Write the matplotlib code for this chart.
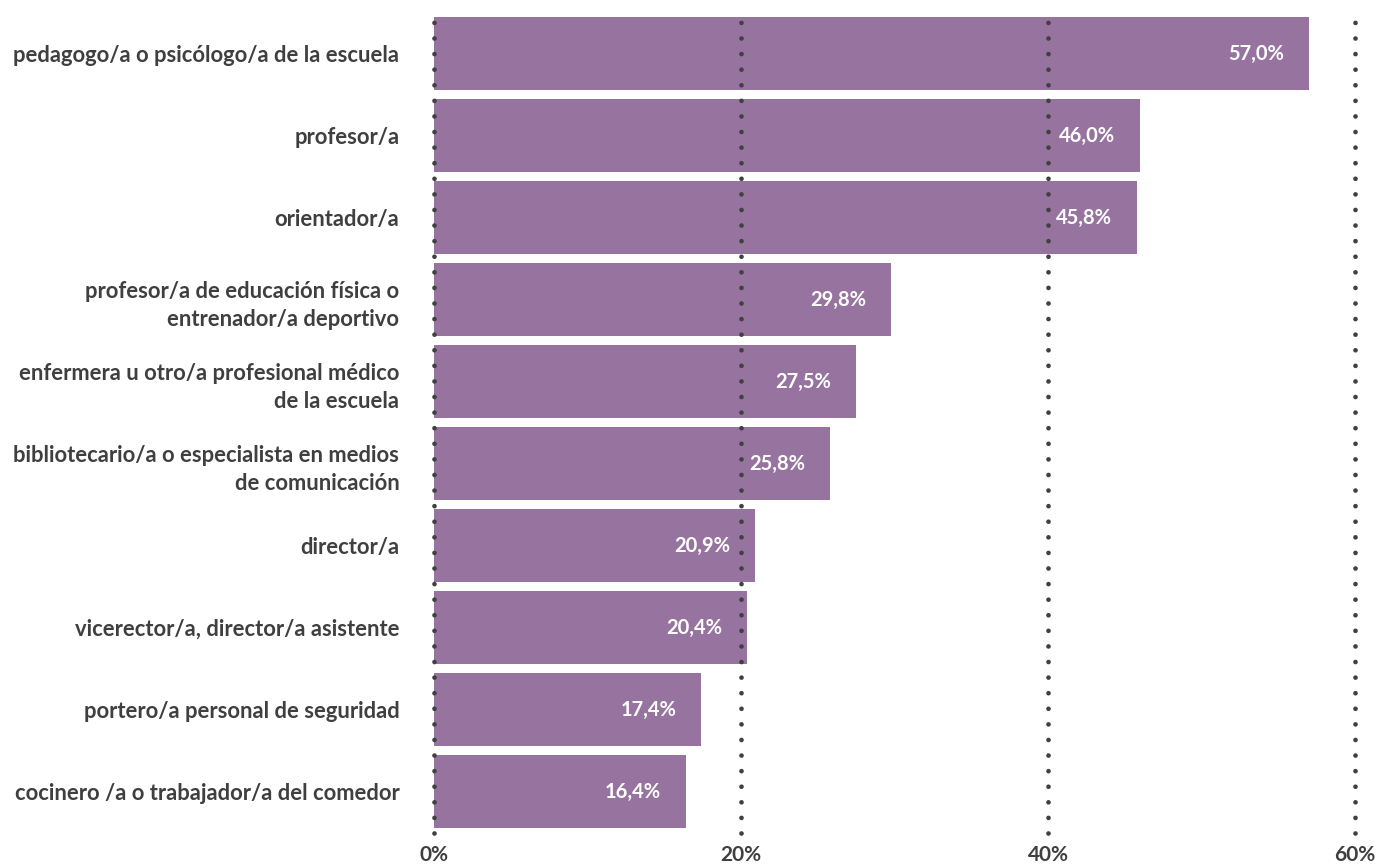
import matplotlib
matplotlib.use('Agg')
import matplotlib.pyplot as plt
from matplotlib.ticker import FuncFormatter

plt.rcParams['font.family'] = ['Lato', 'DejaVu Sans']

categories = [
    'pedagogo/a o psicólogo/a de la escuela',
    'profesor/a',
    'orientador/a',
    'profesor/a de educación física o\nentrenador/a deportivo',
    'enfermera u otro/a profesional médico\nde la escuela',
    'bibliotecario/a o especialista en medios\nde comunicación',
    'director/a',
    'vicerector/a, director/a asistente',
    'portero/a personal de seguridad',
    'cocinero /a o trabajador/a del comedor',
]
values = [57.0, 46.0, 45.8, 29.8, 27.5, 25.8, 20.9, 20.4, 17.4, 16.4]
ticks = [0, 20, 40, 60]

bar_color = '#9774a0'
text_color = '#3f3f3f'

fig = plt.figure(figsize=(13.98, 8.64), dpi=100)
ax = fig.add_axes([434 / 1398, 1 - 832.5 / 864, (1355 - 434) / 1398, (832.5 - 12.5) / 864])

y = list(range(len(categories)))
ax.barh(y, values, height=0.89, color=bar_color, zorder=1)
ax.set_ylim(len(categories) - 0.5, -0.5)
ax.set_xlim(0, 60)

for t in ticks:
    ax.axvline(t, color='#404040', lw=3.4, linestyle=(0, (0.001, 3.3)),
               dash_capstyle='round', zorder=3, clip_on=False)

for i, v in enumerate(values):
    ax.annotate(f'{v:.1f}%'.replace('.', ','), xy=(v, i), xytext=(-18, 0),
                textcoords='offset points', ha='right', va='center',
                color='white', fontsize=14.5, fontweight='bold', zorder=4)

ax.set_yticks(y)
ax.set_yticklabels(categories, fontsize=15.8, fontweight='bold', color=text_color,
                   linespacing=1.45)
ax.set_xticks(ticks)
ax.xaxis.set_major_formatter(FuncFormatter(lambda x, p: f'{x:.0f}%'))
for lbl in ax.get_xticklabels():
    lbl.set_fontsize(15)
    lbl.set_fontweight('bold')
    lbl.set_color(text_color)
ax.tick_params(axis='both', length=0)
ax.tick_params(axis='y', pad=25)
ax.tick_params(axis='x', pad=9)
for s in ax.spines.values():
    s.set_visible(False)

fig.savefig('out.png', dpi=100, facecolor='white')
